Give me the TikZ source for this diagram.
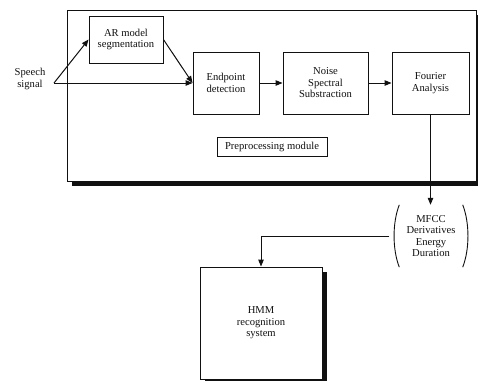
\documentclass[tikz,border=0pt]{standalone}
\usepackage{fontspec}
\setmainfont{Liberation Serif}
\usetikzlibrary{arrows.meta,shadows}
\definecolor{ink}{HTML}{111111}
\tikzset{
  >={Triangle[length=7pt,width=5.5pt]},
  txt/.style={font=\fontsize{10.6}{11.5}\selectfont, align=center, text=ink, inner sep=0pt},
  box/.style={txt, draw=ink, line width=0.9pt, rectangle},
  shbox/.style={box, fill=white, general shadow={fill=ink, shadow xshift=5pt, shadow yshift=-5pt}},
  arr/.style={->, draw=ink, line width=1pt},
  link/.style={draw=ink, line width=0.9pt},
}
\begin{document}
\begin{tikzpicture}[x=1pt,y=-1pt]
  \useasboundingbox (0,0) rectangle (478,380);
  % ---------------- preprocessing module ----------------
  \node[shbox, minimum width=409pt, minimum height=171pt] (mod) at (271.5,95.5) {};
  \node[box, minimum width=74pt, minimum height=47pt] (ar) at (126,39.5) {AR model\\segmentation};
  \node[box, minimum width=66pt, minimum height=62pt] (ep) at (226,83) {Endpoint\\detection};
  \node[box, minimum width=85pt, minimum height=62pt] (noise) at (325.5,83) {Noise\\Spectral\\Substraction};
  \node[box, minimum width=77pt, minimum height=62pt] (fourier) at (430.5,83) {Fourier\\Analysis};
  \node[box, minimum width=110pt, minimum height=19pt] (pre) at (272,146.5) {Preprocessing module};
  \node[txt] (speech) at (30,79) {Speech\\signal};
  \coordinate (in) at (54,83);
  \draw[arr] (in) -- (ar.west);
  \draw[arr] (ar.east) -- (ep.west);
  \draw[arr] (in) -- (ep.west);
  \draw[arr] (ep) -- (noise);
  \draw[arr] (noise) -- (fourier);

  % ---------------- features and recognizer ----------------
  \node[txt, minimum width=73pt, minimum height=62pt] (feat) at (431,236) {MFCC\\Derivatives\\Energy\\Duration};
  \draw[link] ([xshift=5pt]feat.north west) .. controls ([xshift=-2pt,yshift=-18pt]feat.north west) and ([xshift=-2pt,yshift=18pt]feat.south west) .. ([xshift=5pt]feat.south west);
  \draw[link] ([xshift=-5pt]feat.north east) .. controls ([xshift=2pt,yshift=-18pt]feat.north east) and ([xshift=2pt,yshift=18pt]feat.south east) .. ([xshift=-5pt]feat.south east);
  \node[shbox, minimum width=122pt, minimum height=112pt] (hmm) at (261,323) {HMM\\recognition\\system};
  \draw[arr] (fourier.south) -- (fourier.south |- feat.north);
  \draw[arr] ([xshift=-5pt]feat.west) -| (hmm.north);
\end{tikzpicture}
\end{document}
